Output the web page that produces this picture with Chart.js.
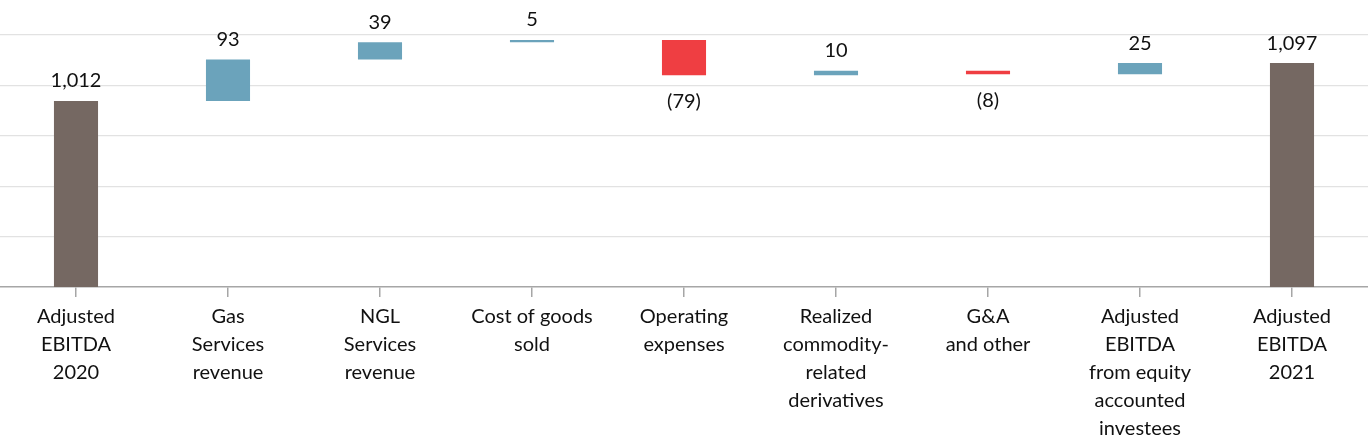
<!DOCTYPE html>
<html>
<head>
<meta charset="utf-8">
<script src="https://cdn.jsdelivr.net/npm/chart.js@4/dist/chart.umd.min.js"></script>
<style>
    html, body { margin: 0; padding: 0; background: #fff; }
    #wrap { width: 1368px; height: 440px; position: relative; }
</style>
</head>
<body>
<div id="wrap"><canvas id="bridge"></canvas></div>
<script>
// Categorías (líneas de cada etiqueta)
const categories = [
    ['Adjusted', 'EBITDA', '2020'],
    ['Gas', 'Services', 'revenue'],
    ['NGL', 'Services', 'revenue'],
    ['Cost of goods', 'sold'],
    ['Operating', 'expenses'],
    ['Realized', 'commodity-', 'related', 'derivatives'],
    ['G&A', 'and other'],
    ['Adjusted', 'EBITDA', 'from equity', 'accounted', 'investees'],
    ['Adjusted', 'EBITDA', '2021']
];
const startTotal = 1012;
const changes = [93, 39, 5, -79, 10, -8, 25];
const endTotal = 1097;

// Eje Y (sin etiquetas, solo líneas de rejilla)
const yMin = 595;
const yMax = 1160;
const yStep = 113;

const COLOR_TOTAL = '#756862';
const COLOR_UP = '#6ba3bb';
const COLOR_DOWN = '#ef3e42';
const FONT = 'Lato, "Open Sans", sans-serif';

(() => {
    // Construir barras flotantes
    const barData = [startTotal];
    const colors = [COLOR_TOTAL];
    const labels = [startTotal.toLocaleString('en-US')];
    let running = startTotal;
    changes.forEach(c => {
        barData.push([running, running + c]);
        colors.push(c >= 0 ? COLOR_UP : COLOR_DOWN);
        labels.push(c >= 0 ? String(c) : '(' + Math.abs(c) + ')');
        running += c;
    });
    barData.push(endTotal);
    colors.push(COLOR_TOTAL);
    labels.push(endTotal.toLocaleString('en-US'));

    const valueLabels = {
        id: 'valueLabels',
        afterDatasetsDraw(chart) {
            const ctx = chart.ctx;
            const meta = chart.getDatasetMeta(0);
            ctx.save();
            ctx.font = '20px ' + FONT;
            ctx.fillStyle = '#111';
            ctx.textAlign = 'center';
            ctx.textBaseline = 'middle';
            meta.data.forEach((bar, i) => {
                const raw = barData[i];
                const negative = Array.isArray(raw) && raw[1] < raw[0];
                const top = Math.min(bar.y, bar.base);
                const bottom = Math.max(bar.y, bar.base);
                const y = negative ? bottom + 26 : top - 20;
                ctx.fillText(labels[i], bar.x, y);
            });
            ctx.restore();
        }
    };

    new Chart(document.getElementById('bridge'), {
        type: 'bar',
        data: {
            labels: categories,
            datasets: [{
                data: barData,
                backgroundColor: colors,
                borderWidth: 0,
                categoryPercentage: 1,
                barPercentage: 0.29,
                borderSkipped: false
            }]
        },
        options: {
            responsive: true,
            maintainAspectRatio: false,
            animation: false,
            layout: { padding: { top: 35, left: 0, right: 0, bottom: 0 } },
            plugins: {
                legend: { display: false },
                tooltip: { enabled: false }
            },
            scales: {
                x: {
                    grid: {
                        offset: false,
                        drawOnChartArea: false,
                        drawTicks: true,
                        tickLength: 10,
                        color: '#a6a6a6',
                        lineWidth: 1.5
                    },
                    border: { display: true, color: '#a6a6a6', width: 1.5 },
                    ticks: {
                        color: '#111',
                        font: { family: FONT, size: 20, lineHeight: '28px' },
                        padding: 6,
                        maxRotation: 0,
                        autoSkip: false
                    },
                    afterFit: s => { s.height = 153; }
                },
                y: {
                    min: yMin,
                    max: yMax,
                    ticks: { stepSize: yStep, display: false },
                    grid: {
                        color: ctx => ctx.index === 0 ? 'rgba(0,0,0,0)' : '#e2e2e2',
                        lineWidth: 1.3,
                        drawTicks: false
                    },
                    border: { display: false },
                    afterFit: s => { s.width = 0; }
                }
            }
        },
        plugins: [valueLabels]
    });
})();
</script>
</body>
</html>
